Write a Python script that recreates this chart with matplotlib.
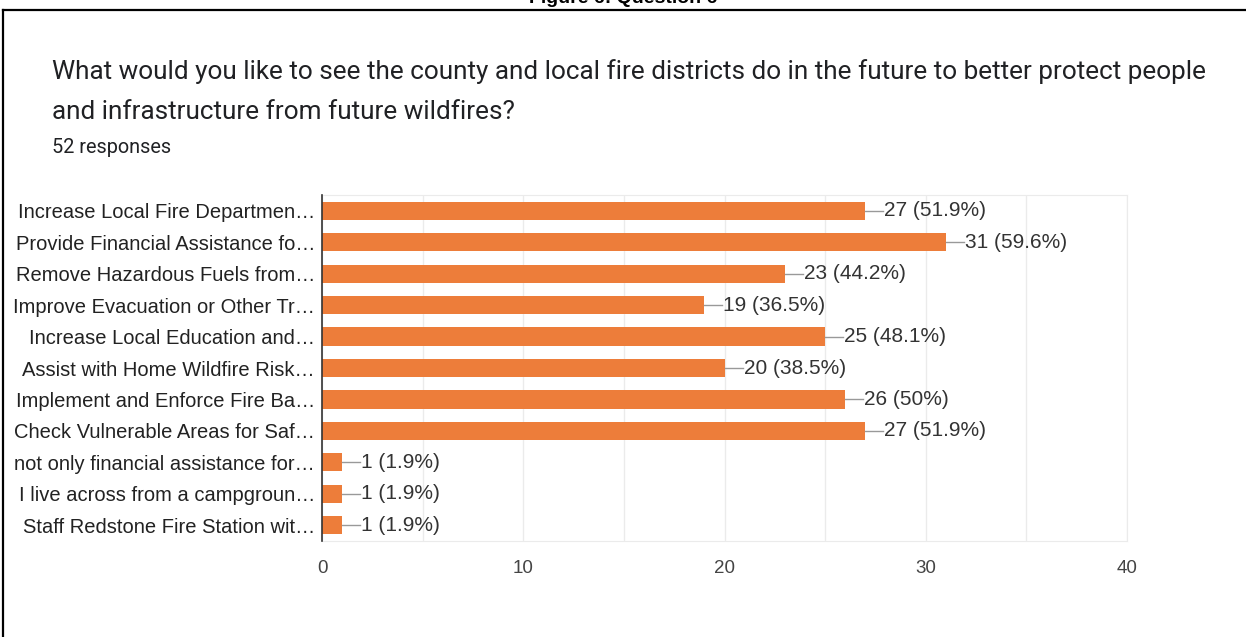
import matplotlib.pyplot as plt
import numpy as np

# survey answers (truncated the same way as in the form summary)
labels = [
    "Increase Local Fire Departmen\u2026",
    "Provide Financial Assistance fo\u2026",
    "Remove Hazardous Fuels from\u2026",
    "Improve Evacuation or Other Tr\u2026",
    "Increase Local Education and\u2026",
    "Assist with Home Wildfire Risk\u2026",
    "Implement and Enforce Fire Ba\u2026",
    "Check Vulnerable Areas for Saf\u2026",
    "not only financial assistance for\u2026",
    "I live across from a campgroun\u2026",
    "Staff Redstone Fire Station wit\u2026",
]
counts = [27, 31, 23, 19, 25, 20, 26, 27, 1, 1, 1]
pct_labels = ["51.9%", "59.6%", "44.2%", "36.5%", "48.1%", "38.5%",
              "50%", "51.9%", "1.9%", "1.9%", "1.9%"]
n_responses = 52
xticks = [0, 10, 20, 30, 40]

W, H = 1246, 637
fig = plt.figure(figsize=(W / 100, H / 100), dpi=100)

# outer frame (right and bottom edges fall outside the crop)
fig.add_artist(plt.Line2D([3 / W, 3 / W], [0, 1 - 10 / H], color="black", lw=1.6))
fig.add_artist(plt.Line2D([3 / W, 1], [1 - 10 / H, 1 - 10 / H], color="black", lw=1.6))

# caption above the frame, mostly cut off as in the source page
fig.text(0.5, 1 - 3 / H, "Figure 6: Question 6", ha="center", va="baseline",
         fontsize=14, fontweight="bold", family="Liberation Sans", color="black")

fig.text(52 / W, 1 - 72 / H, "What would you like to see the county and local fire districts do in the future to better protect people",
         ha="left", va="center", fontsize=18.8, family="Roboto", color="#202124")
fig.text(52 / W, 1 - 112 / H, "and infrastructure from future wildfires?",
         ha="left", va="center", fontsize=18.8, family="Roboto", color="#202124")
fig.text(52 / W, 1 - 147 / H, f"{n_responses} responses",
         ha="left", va="center", fontsize=14.3, family="Roboto", color="#202124")

left, right, top, bottom = 322, 1127, 195, 541
ax = fig.add_axes([left / W, 1 - bottom / H, (right - left) / W, (bottom - top) / H])

y = np.arange(len(labels))
ax.barh(y, counts, height=0.58, color="#ED7D3A", zorder=3)
ax.set_ylim(len(labels) - 0.5, -0.5)
ax.set_xlim(0, 40)

ax.set_xticks(xticks)
ax.set_xticks(np.arange(5, 40, 5), minor=True)
ax.grid(axis="x", which="both", color="#ebebeb", lw=1, zorder=0)
ax.tick_params(axis="x", which="both", length=0, pad=14, labelsize=13.5, labelcolor="#444444")
ax.tick_params(axis="y", length=0, pad=5, labelsize=14.5, labelcolor="#222222")
ax.set_yticks(y)
ax.set_yticklabels(labels)
for t in ax.get_xticklabels() + ax.get_yticklabels():
    t.set_family("Liberation Sans")

for s in ["top", "right", "bottom"]:
    ax.spines[s].set_color("#ebebeb")
ax.spines["left"].set_color("#333333")
ax.spines["left"].set_linewidth(1.2)
ax.spines["left"].set_zorder(4)

for yi, c, p in zip(y, counts, pct_labels):
    ax.plot([c, c + 0.9], [yi, yi], color="#999999", lw=1, zorder=3, clip_on=False)
    ax.text(c + 0.95, yi, f"{c} ({p})", va="center", ha="left", fontsize=15,
            family="Liberation Sans", color="#333333")

fig.savefig("out.png", dpi=100)
